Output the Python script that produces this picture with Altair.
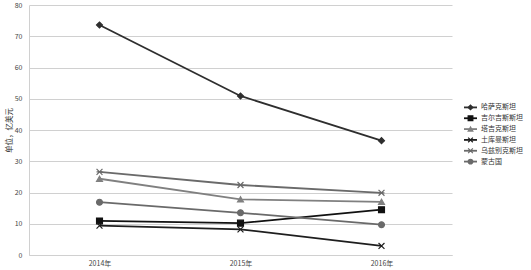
import altair as alt
import pandas as pd

years = ["2014年", "2015年", "2016年"]
names = ["哈萨克斯坦", "吉尔吉斯斯坦", "塔吉克斯坦", "土库曼斯坦", "乌兹别克斯坦", "蒙古国"]
kaz = [73.6, 50.9, 36.6]
kgz = [10.9, 10.2, 14.5]
tjk = [24.4, 17.8, 17.0]
tkm = [9.4, 8.2, 2.9]
uzb = [26.6, 22.4, 19.9]
mng = [16.9, 13.5, 9.7]
series = [kaz, kgz, tjk, tkm, uzb, mng]

colors = ["#2e2e2e", "#111111", "#808080", "#1e1e1e", "#6a6a6a", "#6a6a6a"]
shapes = [
    "diamond",
    "square",
    "triangle-up",
    "M-1,-1L1,1M-1,1L1,-1",
    "M-1,-1L1,1M-1,1L1,-1M-1,0L1,0",
    "circle",
]

rows = []
for n, vals in zip(names, series):
    for y, v in zip(years, vals):
        rows.append({"name": n, "year": y, "value": v})
df = pd.DataFrame(rows)
leg = pd.DataFrame({"name": names})

FONT = "Noto Sans CJK SC"
color_scale = alt.Scale(domain=names, range=colors)
shape_scale = alt.Scale(domain=names, range=shapes)

x = alt.X("year:N", sort=years, title=None,
          scale=alt.Scale(type="point", padding=0.5),
          axis=alt.Axis(labelAngle=0, ticks=False, grid=False, domainColor="#d0d0d0",
                        labelFont=FONT, labelFontSize=7, labelColor="#444", labelPadding=4))
y = alt.Y("value:Q", title="单位，亿美元",
          scale=alt.Scale(domain=[0, 80], nice=False),
          axis=alt.Axis(values=list(range(0, 81, 10)), ticks=False, gridColor="#d0d0d0",
                        domainColor="#d0d0d0", labelFont=FONT, labelFontSize=7, labelColor="#444",
                        labelPadding=7, titleFont=FONT, titleFontSize=7.5, titleFontWeight="normal",
                        titleColor="#333", titlePadding=1))

lines = alt.Chart(df).mark_line(strokeWidth=1.8).encode(
    x=x, y=y,
    color=alt.Color("name:N", scale=color_scale, legend=None),
    detail="name:N",
)
points = alt.Chart(df).mark_point(filled=True, opacity=1, strokeWidth=1.2, size=35).encode(
    x=x, y=y,
    color=alt.Color("name:N", scale=color_scale, legend=None),
    stroke=alt.Stroke("name:N", scale=color_scale, legend=None),
    shape=alt.Shape("name:N", scale=shape_scale, legend=None),
)

ly = alt.Y("name:N", sort=names, title=None, axis=None,
           scale=alt.Scale(type="point", domain=names, range=[97, 162]))
leg_rule = alt.Chart(leg).mark_rule(strokeWidth=1.8).encode(
    y=ly, x=alt.value(435), x2=alt.value(448),
    color=alt.Color("name:N", scale=color_scale, legend=None),
)
leg_pt = alt.Chart(leg).mark_point(filled=True, opacity=1, strokeWidth=1.2, size=22).encode(
    y=ly, x=alt.value(441.5),
    color=alt.Color("name:N", scale=color_scale, legend=None),
    stroke=alt.Stroke("name:N", scale=color_scale, legend=None),
    shape=alt.Shape("name:N", scale=shape_scale, legend=None),
)
leg_txt = alt.Chart(leg).mark_text(align="left", baseline="middle", font=FONT, fontSize=7,
                                   color="#333").encode(
    y=ly, x=alt.value(452), text="name:N",
)

main = alt.layer(lines, points)
legend = alt.layer(leg_rule, leg_pt, leg_txt)

chart = alt.layer(main, legend).resolve_scale(y="independent").properties(
    width=423, height=250,
    autosize=alt.AutoSizeParams(type="none"),
    padding={"left": 29, "top": 5, "right": 79, "bottom": 15},
    background="white",
).configure_view(stroke="transparent", strokeWidth=0).configure_axisRight(
    domain=False, grid=False, labels=False, ticks=False
)

chart.save("out.html", embed_options={"renderer": "svg", "actions": False})
